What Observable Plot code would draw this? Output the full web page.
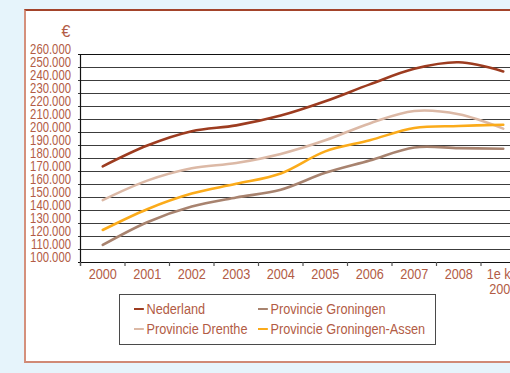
<!DOCTYPE html>
<html>
<head>
<meta charset="utf-8">
<script src="https://cdn.jsdelivr.net/npm/d3@7"></script>
<script src="https://cdn.jsdelivr.net/npm/@observablehq/plot@0.6"></script>
<style>
  html, body { margin: 0; padding: 0; }
  body {
    width: 510px; height: 373px; overflow: hidden; position: relative;
    background: #e6f4fb;
    font-family: "Liberation Sans", Arial, sans-serif;
    color: #b25c45;
  }
  #panel {
    position: absolute; left: 24px; top: 9px; width: 600px; height: 350px;
    background: #fff;
    border-top: 2px solid #a3432a;
    border-left: 2px solid #d4907c;
    border-bottom: 2px solid #d08a75;
  }
  #chart { position: absolute; left: 0; top: 0; }
  #chart svg { max-width: none !important; }
  #euro { position: absolute; left: 61.5px; top: 22px; font-size: 16px; line-height: 20px; }
  #legend {
    position: absolute; left: 119px; top: 294px; width: 315px; height: 49px;
    border: 1px solid #4a4a4a; background: #fff;
  }
  .item { position: absolute; font-size: 15.5px; line-height: 18px; white-space: nowrap;
          transform: scaleX(0.82); transform-origin: left center; }
  .swatch { display: inline-block; width: 12.2px; height: 2.5px; vertical-align: middle;
            margin-right: 3px; position: relative; top: -1px; }
</style>
</head>
<body>
<div id="panel"></div>
<div id="euro">€</div>
<div id="chart"></div>
<div id="legend"></div>
<script>
// Period labels along the x axis
const periods = ["2000", "2001", "2002", "2003", "2004", "2005", "2006", "2007", "2008", "1e kw\n2009"];

// Average house prices (€) per region
const nederland      = [174000, 190000, 201000, 205500, 213000, 224000, 237000, 249000, 254000, 247000];
const groningen      = [113500, 131000, 143000, 150000, 156000, 169000, 178500, 188500, 188000, 187500];
const drenthe        = [148000, 163000, 172500, 176500, 183500, 194000, 207000, 216500, 214000, 203000];
const groningenAssen = [125000, 141000, 153000, 160500, 168500, 185500, 194000, 203500, 205000, 206000];

// Series names and colours
const seriesNames  = ["Nederland", "Provincie Groningen", "Provincie Drenthe", "Provincie Groningen-Assen"];
const seriesColors = ["#9d3c20", "#a8836f", "#dcb9a6", "#fbab1a"];
const seriesValues = [nederland, groningen, drenthe, groningenAssen];

// Y axis tick values
const yTicks = [100000, 110000, 120000, 130000, 140000, 150000, 160000, 170000,
                180000, 190000, 200000, 210000, 220000, 230000, 240000, 250000, 260000];

const textColor = "#b25c45";
const narrow = 0.82; // horizontal squeeze giving a narrow sans face
const nlFormat = d3.formatLocale({decimal: ",", thousands: ".", grouping: [3], currency: ["€", ""]}).format(",");

const rows = seriesNames.flatMap((name, s) =>
  seriesValues[s].map((v, i) => ({series: name, i, value: v}))
);
const boundaries = d3.range(periods.length + 1).map(k => k - 0.5);

const chart = Plot.plot({
  width: 526,
  height: 373,
  marginLeft: 80,
  marginRight: 1,
  marginTop: 54,
  marginBottom: 111,
  style: {background: "transparent", overflow: "visible", fontFamily: "inherit", maxWidth: "none"},
  x: {domain: [-0.5, periods.length - 0.5], axis: null},
  y: {domain: [100000, 260000], axis: null},
  color: {domain: seriesNames, range: seriesColors},
  marks: [
    // horizontal gridlines with short ticks left of the axis
    Plot.ruleY(yTicks.slice(1, -1), {stroke: "#3c3c3c", strokeWidth: 1.1, insetLeft: -2}),
    Plot.ruleY([yTicks[0], yTicks[yTicks.length - 1]], {stroke: "#111", strokeWidth: 1.2, insetLeft: -2}),
    // left axis line
    Plot.ruleX([-0.5], {stroke: "#111", strokeWidth: 1.2, insetBottom: -4}),
    // x tick marks at category boundaries
    Plot.ruleX(boundaries, {y1: 100000, y2: 100000, insetBottom: -4, stroke: "#555", strokeWidth: 1.2}),
    // y tick labels
    Plot.text(yTicks, {
      x: -0.5, y: d => d, text: d => nlFormat(d),
      textAnchor: "end", dx: -9.5, dy: -5, fill: textColor, fontSize: 13.8, className: "narrow-text"
    }),
    // x tick labels
    Plot.text(periods, {
      x: (d, i) => i, y: 100000, text: d => d,
      lineAnchor: "top", dy: 5, fill: textColor, fontSize: 15.5, lineHeight: 1.0, className: "narrow-text"
    }),
    // series lines
    Plot.line(rows, {
      x: "i", y: "value", z: "series", stroke: "series",
      curve: "catmull-rom", strokeWidth: 2.6
    })
  ]
});
// squeeze the label glyphs horizontally around their anchor points
chart.querySelectorAll(".narrow-text text").forEach(t => {
  const tr = t.getAttribute("transform") || "";
  t.setAttribute("transform", tr + ` scale(${narrow},1)`);
});
document.getElementById("chart").appendChild(chart);

// Legend, two columns by two rows
const legend = document.getElementById("legend");
const legendPos = [[14, 5], [138, 5], [14, 25], [138, 25]];
seriesNames.forEach((name, s) => {
  const item = document.createElement("div");
  item.className = "item";
  item.style.left = legendPos[s][0] + "px";
  item.style.top = legendPos[s][1] + "px";
  const sw = document.createElement("span");
  sw.className = "swatch";
  sw.style.background = seriesColors[s];
  item.appendChild(sw);
  item.appendChild(document.createTextNode(name));
  legend.appendChild(item);
});
</script>
</body>
</html>
